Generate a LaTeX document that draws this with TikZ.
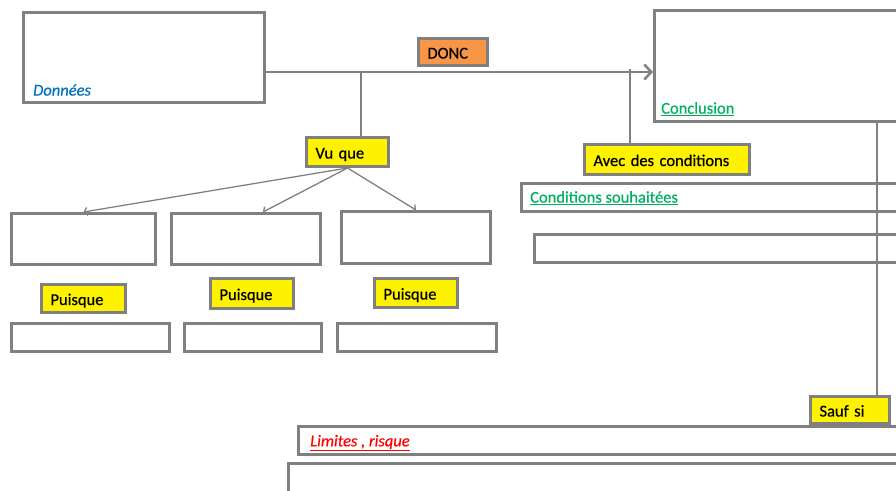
\documentclass[tikz,border=0pt]{standalone}
\usepackage{fontspec}
\setmainfont{Carlito}[FakeBold=0.5,ItalicFeatures={FakeBold=0.5}]
\usetikzlibrary{arrows.meta}
\definecolor{bgray}{HTML}{808080}
\definecolor{borange}{HTML}{F79646}
\definecolor{dblue}{HTML}{0070C0}
\definecolor{cgreen}{HTML}{00B060}
\definecolor{cred}{HTML}{FF0000}
\begin{document}
\begin{tikzpicture}[x=1pt,y=-1pt,
  box/.style={draw=bgray, line width=3pt, fill=white, anchor=north west, inner sep=0pt},
  tag/.style={box, fill=yellow, font=\fontsize{16.5}{18}\selectfont, inner xsep=9pt, inner ysep=0pt, align=left, text height=13pt, text depth=0pt},
  lbl/.style={anchor=west, inner sep=0pt, font=\fontsize{16.5}{18}\selectfont},
  conn/.style={draw=bgray, line width=2pt},
  mainarr/.style={draw=bgray, line width=2.5pt, -{Straight Barb[length=7pt,width=15pt]}},
  thinarr/.style={draw=bgray, line width=1.3pt, -{Straight Barb[length=3pt,width=8pt]}}
]
\useasboundingbox (0,0) rectangle (896,490);
\clip (0,0) rectangle (896,490);

% big boxes
\node[box, minimum width=241pt, minimum height=90pt] (donnees) at (22,11) {};
\node[box, minimum width=300pt, minimum height=111pt] (concl) at (653,9) {};
\node[box, minimum width=400pt, minimum height=28pt] (condsouh) at (520,182) {};
\node[box, minimum width=400pt, minimum height=28pt] (condbox) at (533,233) {};
\node[box, minimum width=620pt, minimum height=28pt] (limites) at (297,425) {};
\node[box, minimum width=630pt, minimum height=60pt] (bottom) at (287,462) {};

% left boxes
\node[box, minimum width=144pt, minimum height=51pt] (b1) at (10,212) {};
\node[box, minimum width=149pt, minimum height=51pt] (b2) at (170,212) {};
\node[box, minimum width=149pt, minimum height=52pt] (b3) at (340,210) {};
\node[box, minimum width=158pt, minimum height=28pt] (s1) at (10,322) {};
\node[box, minimum width=137pt, minimum height=28pt] (s2) at (183,322) {};
\node[box, minimum width=159pt, minimum height=28pt] (s3) at (336,322) {};

% tags
\node[tag, fill=borange, minimum width=69pt, minimum height=27pt, text width=51pt] (donc) at (417,37) {DONC};
\node[tag, minimum width=82pt, minimum height=29pt, text width=64pt] (vuque) at (305,136) {Vu que};
\node[tag, minimum width=165pt, minimum height=30pt, text width=147pt] (avec) at (583,143) {Avec des conditions};
\node[tag, minimum width=84pt, minimum height=28pt, text width=66pt] (p1) at (40,283) {Puisque};
\node[tag, minimum width=83pt, minimum height=30pt, text width=65pt] (p2) at (209,277) {Puisque};
\node[tag, minimum width=83pt, minimum height=29pt, text width=65pt] (p3) at (373,277) {Puisque};
\node[tag, minimum width=79pt, minimum height=27pt, text width=61pt] (saufsi) at (809,395) {Sauf si};

% labels
\node[lbl, text=dblue, font=\fontsize{16.5}{18}\selectfont\itshape] (ldon) at (33,90) {Données};
\node[lbl, text=cgreen] (lconcl) at (661,109) {\underline{Conclusion}};
\node[lbl, text=cgreen] (lcond) at (530,198) {\underline{Conditions souhaitées}};
\node[lbl, text=cred, font=\fontsize{16.5}{18}\selectfont\itshape] (llim) at (310,443) {\underline{Limites , risque}};

% connectors
\coordinate (my) at (0,72);
\coordinate (v1) at (361,72);
\coordinate (v2) at (630,69);
\coordinate (v3) at (877,0);
\coordinate (t2) at (263,0);
\draw[mainarr] (donnees.east |- my) -- (concl.west |- my);
\draw[conn] (v1) -- (v1 |- vuque.north);
\draw[conn] (v2) -- (v2 |- avec.north);
\draw[conn] (concl.south -| v3) -- (saufsi.north -| v3);
\draw[thinarr] (vuque.south) -- (b1.north);
\draw[thinarr] (vuque.south) -- (b2.north -| t2);
\draw[thinarr] (vuque.south) -- (b3.north);
\end{tikzpicture}
\end{document}
